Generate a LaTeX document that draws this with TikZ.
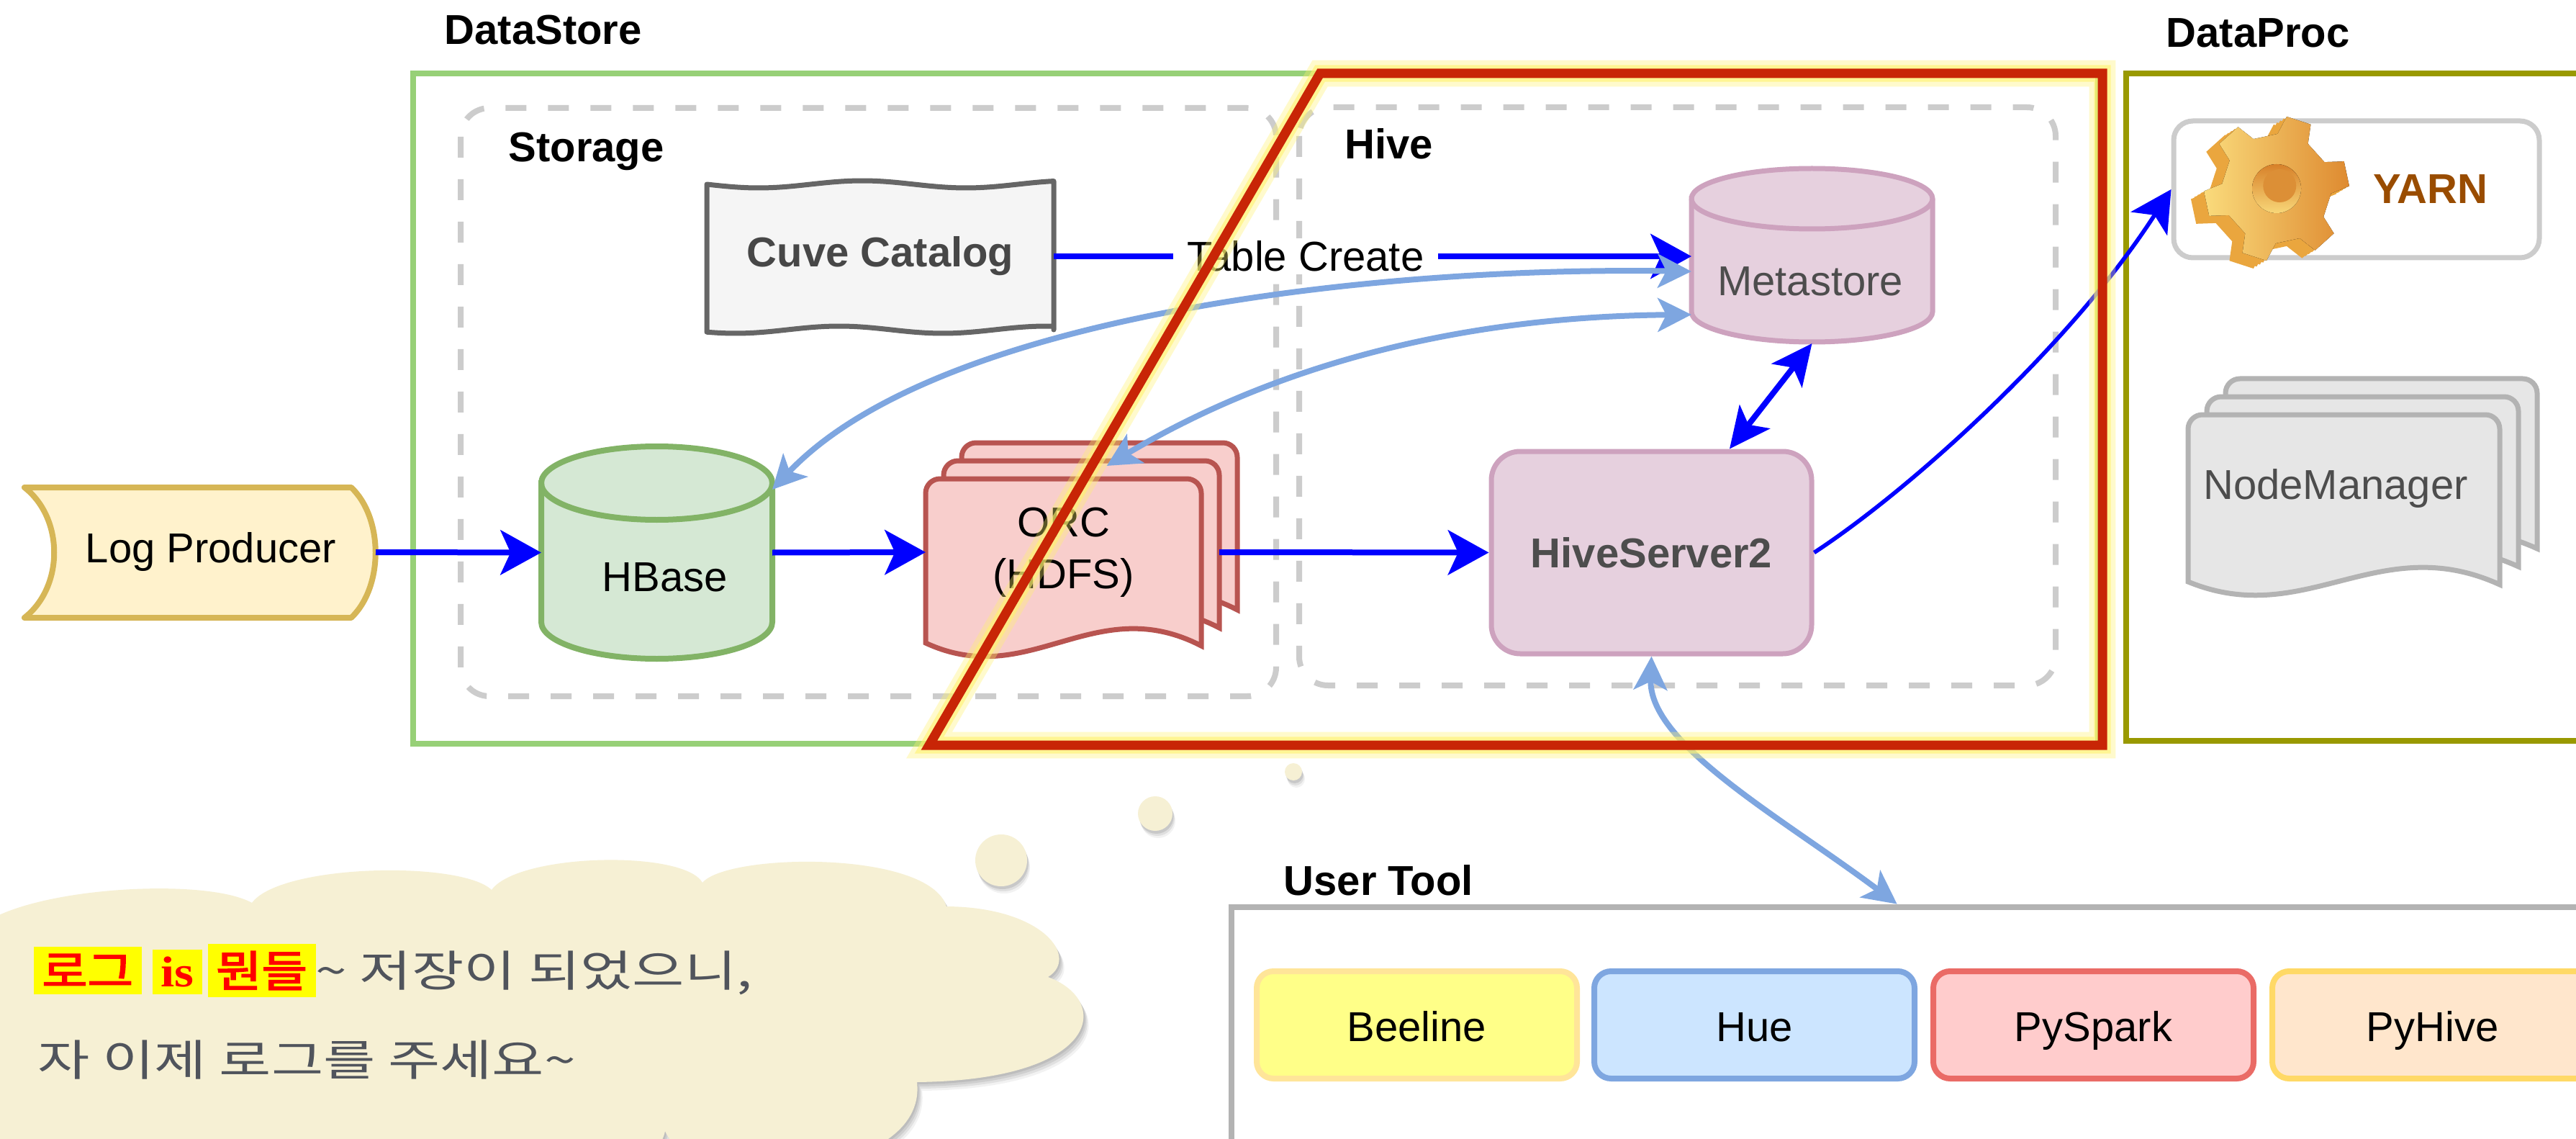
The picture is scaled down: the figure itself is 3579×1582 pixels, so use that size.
\documentclass[tikz,border=0pt]{standalone}
\usepackage{fontspec}
\usepackage{graphicx}
\setmainfont{Liberation Sans}
\newfontfamily\kofont{Noto Sans CJK KR}
\newfontfamily\kobold[FakeBold=2.5]{Noto Sans CJK KR}
\newfontfamily\seriffont{Liberation Serif}
\usetikzlibrary{arrows.meta,calc}

\definecolor{dsgreen}{HTML}{97D077}
\definecolor{procolive}{HTML}{999900}
\definecolor{hlred}{HTML}{C82506}
\definecolor{glowyellow}{HTML}{FFF36E}
\definecolor{dashgray}{HTML}{CCCCCC}
\definecolor{catfill}{HTML}{F5F5F5}
\definecolor{catline}{HTML}{666666}
\definecolor{flowblue}{HTML}{0000FF}
\definecolor{linkblue}{HTML}{7EA6E0}
\definecolor{hbfill}{HTML}{D5E8D4}
\definecolor{hbline}{HTML}{82B366}
\definecolor{orcfill}{HTML}{F8CECC}
\definecolor{orcline}{HTML}{B85450}
\definecolor{hvfill}{HTML}{E6D0DE}
\definecolor{hvline}{HTML}{CDA2BE}
\definecolor{lpfill}{HTML}{FFF2CC}
\definecolor{lpline}{HTML}{D6B656}
\definecolor{nmfill}{HTML}{E6E6E6}
\definecolor{nmline}{HTML}{B3B3B3}
\definecolor{yarnline}{HTML}{CCCCCC}
\definecolor{yarnbrown}{HTML}{994C00}
\definecolor{txtgray}{HTML}{4D4D4D}
\definecolor{cloudfill}{HTML}{F6F0D4}
\definecolor{cloudtxt}{HTML}{50545C}
\definecolor{hlyellow}{HTML}{FFFF00}
\definecolor{hltext}{HTML}{FF0000}
\definecolor{beefill}{HTML}{FFFF88}
\definecolor{beeline}{HTML}{FFE599}
\definecolor{huefill}{HTML}{CCE5FF}
\definecolor{hueline}{HTML}{7EA6E0}
\definecolor{spkfill}{HTML}{FFCCCC}
\definecolor{spkline}{HTML}{EA6B66}
\definecolor{phvfill}{HTML}{FFE6CC}
\definecolor{phvline}{HTML}{FFD966}
\definecolor{gearlight}{HTML}{FADB7C}
\definecolor{geardark}{HTML}{DE8A30}
\definecolor{gearside}{HTML}{EAA63E}
\definecolor{gearhole}{HTML}{D7812A}

% stacked document sheet: style, left, top, right, bottom-left y
\newcommand\docsheet[5]{%
  \filldraw[#1] (#2,#5) -- ({#2},{#3+20})
    arc[start angle=180,end angle=270,radius=20] -- ({#4-20},{#3})
    arc[start angle=270,end angle=360,radius=20] -- ({#4},{#5+4})
    .. controls ({#4-0.39*(#4-#2)},{#5-73}) and ({#4-0.624*(#4-#2)},{#5+67}) .. (#2,#5) -- cycle;}

% upright cylinder: style, centre x, top, bottom, x radius, y radius
\newcommand\dbcylinder[6]{%
  \filldraw[#1] ({#2-#5},{#3+#6}) -- ({#2-#5},{#4-#6})
    arc[start angle=180,end angle=0,x radius=#5,y radius=#6] -- ({#2+#5},{#3+#6})
    arc[start angle=0,end angle=-180,x radius=#5,y radius=#6] -- cycle;
  \draw[#1,fill=none] ({#2-#5},{#3+#6}) arc[start angle=180,end angle=0,x radius=#5,y radius=#6];}

\newcommand\cloudpath{(-40,1300) .. controls (0,1235) and (280,1215) .. (350,1254)
  .. controls (390,1200) and (640,1195) .. (683,1236)
  .. controls (720,1185) and (950,1180) .. (976,1226)
  .. controls (1010,1185) and (1290,1180) .. (1315,1259)
  .. controls (1450,1260) and (1500,1330) .. (1456,1357)
  .. controls (1545,1390) and (1530,1500) .. (1274,1503)
  .. controls (1290,1640) and (960,1660) .. (924,1571)
  .. controls (900,1700) and (300,1700) .. (-40,1700) -- cycle}

\newcommand\tld{\char"7E\relax}
\newcommand\hlw[1]{{\setlength\fboxsep{3pt}\colorbox{hlyellow}{#1}}}

\begin{document}
\begin{tikzpicture}[x=0.3pt,y=-0.3pt,
  hdr/.style={font=\fontsize{17.4}{20}\selectfont\bfseries, anchor=base west, inner sep=0pt},
  txt/.style={font=\fontsize{17.4}{21.6}\selectfont, align=center, inner sep=0pt},
  txtb/.style={txt, font=\fontsize{17.4}{21.6}\selectfont\bfseries},
  area/.style={inner sep=0pt, outer sep=0pt},
  flow/.style={draw=flowblue, line width=2.4pt, -{Stealth[length=17pt,width=18.6pt,inset=4.2pt]}},
  flowthin/.style={draw=flowblue, line width=1.7pt, -{Stealth[length=17pt,width=18pt,inset=4.2pt]}},
  flowboth/.style={draw=flowblue, line width=2.4pt,
    {Stealth[length=17pt,width=16pt,inset=4.2pt]}-{Stealth[length=17pt,width=16pt,inset=4.2pt]}},
  link/.style={draw=linkblue, line width=2.4pt,
    {Stealth[length=14pt,width=14pt,inset=3.5pt]}-{Stealth[length=14pt,width=14pt,inset=3.5pt]}},
  dashbox/.style={draw=dashgray, line width=2.4pt, dash pattern=on 8.7pt off 9pt, rounded corners=12pt},
  tool/.style={txt, text height=14pt, text depth=0pt, minimum width=133.5pt, minimum height=44.7pt,
    rounded corners=7pt, line width=2.4pt},
]
\useasboundingbox (0,0) rectangle (3579,1582);
\fill[white] (0,0) rectangle (3579,1582);
\clip (0,0) rectangle (3579,1582);

% ---------- group frames ----------
\draw[dsgreen, line width=2.4pt] (574,102) rectangle (2915,1033);
\draw[procolive, line width=2.4pt] (2954,102) rectangle (3700,1029);
\node[hdr] (dslbl) at (617,62) {DataStore};
\node[hdr] (dplbl) at (3009,66) {DataProc};
\draw[dashbox] (640,150) rectangle (1773,967);
\draw[dashbox] (1805,149) rectangle (2856,952);
\node[hdr] (stlbl) at (706,225) {Storage};
\node[hdr] (hvlbl) at (1868,221) {Hive};

% ---------- Cuve Catalog (sketchy box) ----------
\filldraw[fill=catfill, draw=catline, line width=2.1pt, line join=round]
  (982,460) -- (982,256)
  -- plot[domain=982:1464, samples=60] (\x,{256+5*sin(1.25*(\x-982))})
  -- (1464,458)
  -- plot[domain=1464:982, samples=60] (\x,{458+5*sin(1.25*(\x-982)+40)}) -- cycle;
\node[area, txtb, text=catline!70!black, minimum width=144.6pt, minimum height=63.6pt] (cuve) at (1223,356) {Cuve Catalog};

% ---------- Log Producer ----------
\filldraw[fill=lpfill, draw=lpline, line width=2.4pt, line join=round]
  (34,677) -- (488,677) .. controls (533,720) and (533,815) .. (488,858)
  -- (34,858) .. controls (89,815) and (89,720) .. (34,677) -- cycle;
\node[area, txt, minimum width=137.4pt, minimum height=54.3pt] (logp) at (293,767) {Log Producer};

% ---------- HBase ----------
\dbcylinder{fill=hbfill, draw=hbline, line width=2.4pt}{912.5}{620}{915}{160.5}{51}
\node[area, minimum width=96.3pt, minimum height=88.5pt] (hbase) at (912.5,767.5) {};
\node[txt] (hbasetxt) at (924,802) {HBase};

% ---------- ORC files ----------
\docsheet{fill=orcfill, draw=orcline, line width=2.1pt}{1336}{615}{1719}{843}
\docsheet{fill=orcfill, draw=orcline, line width=2.1pt}{1311}{640}{1694}{868}
\docsheet{fill=orcfill, draw=orcline, line width=2.1pt}{1286}{665}{1669}{893}
\node[area, txt, minimum width=114.9pt, minimum height=61.2pt] (orc) at (1477.5,767) {ORC\\(HDFS)};

% ---------- Metastore ----------
\dbcylinder{fill=hvfill, draw=hvline, line width=2.1pt}{2517.5}{234}{475}{167.5}{42}
\node[area, minimum width=100.5pt, minimum height=72.6pt] (meta) at (2517.5,356) {};
\node[txt, text=txtgray] (metatxt) at (2515,391) {Metastore};

% ---------- HiveServer2 ----------
\node[txtb, text=txtgray, fill=hvfill, draw=hvline, line width=2.1pt, rounded corners=12pt,
  minimum width=133.5pt, minimum height=84.3pt] (hs2) at (2294.5,767.5) {HiveServer2};

% ---------- YARN ----------
\node[draw=yarnline, line width=2.1pt, rounded corners=8pt, fill=white,
  minimum width=152.4pt, minimum height=57pt] (yarn) at (3274,263) {};
\begin{scope}[shift={(3163,262)}, rotate=12]
  \foreach \dx/\dy in {-20/7,-15/5.2,-10/3.5,-5/1.7}{
    \fill[gearside, shift={(\dx,\dy)}] (-17:76) \foreach \a in {0,60,...,300}{
      -- (\a-17:76) -- (\a-10:101) -- (\a+10:101) -- (\a+17:76)} -- cycle;
  }
  \fill[left color=gearlight, right color=geardark] (-17:76) \foreach \a in {0,60,...,300}{
      -- (\a-17:76) -- (\a-10:101) -- (\a+10:101) -- (\a+17:76)} -- cycle;
  \fill[top color=gearhole, bottom color=gearlight] (0,0) circle[radius=34];
  \fill[gearhole!85!gearlight] (5,-3) circle[radius=23];
\end{scope}
\node[txtb, text=yarnbrown] (yarntxt) at (3377,263) {YARN};

% ---------- NodeManager ----------
\docsheet{fill=nmfill, draw=nmline, line width=2.1pt}{3092}{526}{3525}{758}
\docsheet{fill=nmfill, draw=nmline, line width=2.1pt}{3066}{551}{3499}{783}
\docsheet{fill=nmfill, draw=nmline, line width=2.1pt}{3040}{576}{3473}{808}
\node[txt, text=txtgray] (nm) at (3245,679) {NodeManager};

% ---------- data flow ----------
\draw[flow] (logp.east) -- (hbase.west);
\draw[flow] (hbase.east) -- (orc.west);
\draw[flow] ([xshift=7.5pt]orc.east) -- (hs2.west);
\draw[flow] (cuve.east) -- node[pos=0.395, fill=white, txt, inner xsep=6pt, inner ysep=1pt] (tc) {Table Create} (meta.west);
\draw[flowboth] (meta.south) -- ($(hs2.north west)!0.74!(hs2.north east)$);
\draw[flowthin] (hs2.east) .. controls +(133,-87) and +(-140,217) .. (yarn.west);
\draw[link] ($(meta.west)+(0,21)$) .. controls +(-450,-7) and +(227,-240) .. ($(hbase.north east)+(0,60)$);
\draw[link] ($(meta.west)+(0,81)$) .. controls +(-350,3) and +(213,-127) .. ($(orc.north)+(60,-18)$);

% ---------- thought cloud ----------
\foreach \s/\o in {12/0.05, 9/0.07, 6/0.08, 3/0.08}{
  \fill[black, opacity=\o, shift={(0.6*\s,\s)}] \cloudpath;
}
\fill[cloudfill] \cloudpath;
\foreach \cx/\cy/\r in {1391/1195/36, 1605/1130/24, 1797/1072/12}{
  \foreach \s/\o in {10/0.05, 7/0.08, 4/0.1}{
    \fill[black, opacity=\o] ({\cx+0.4*\s},{\cy+\s}) circle[radius=\r];
  }
  \fill[cloudfill] (\cx,\cy) circle[radius=\r];
}
\node[anchor=west, inner sep=0pt, font=\fontsize{18}{22}\selectfont] (say1) at (46,1348)
  {\scalebox{1.15}[1]{\hlw{\color{hltext}\kobold 로그}\hspace{4pt}\hlw{\color{hltext}\seriffont\bfseries is}\hspace{2pt}\hlw{\color{hltext}\kobold 뭔들}}\scalebox{1.31}[1]{\color{cloudtxt}\kofont\tld{} 저장이 되었으니,}};
\node[anchor=west, inner sep=0pt, font=\fontsize{18}{22}\selectfont] (say2) at (52,1472)
  {\scalebox{1.31}[1]{\color{cloudtxt}\kofont 자 이제 로그를 주세요\tld}};

% ---------- user tools ----------
\node[draw=nmline, line width=2.6pt, minimum width=596.7pt, minimum height=132pt] (ut) at (2705.5,1480) {};
\node[hdr] (utlbl) at (1783,1243) {User Tool};
\node[tool, fill=beefill, draw=beeline] (beeline) at (1968.5,1423.5) {Beeline};
\node[tool, fill=huefill, draw=hueline] (hue) at (2437.5,1423.5) {Hue};
\node[tool, fill=spkfill, draw=spkline] (pyspark) at (2908.5,1423.5) {PySpark};
\node[tool, fill=phvfill, draw=phvline] (pyhive) at (3379.5,1423.5) {PyHive};
\draw[link] (hs2.south) .. controls +(-4,122) and +(-160,-120) .. ($(ut.north west)+(929,0)$);

% ---------- highlighted Hive frame ----------
\draw[glowyellow, opacity=0.35, line width=11pt, line join=miter]
  (1834,102) -- (2921,102) -- (2921,1035) -- (1291,1035) -- cycle;
\draw[glowyellow, opacity=0.6, line width=7pt, line join=miter]
  (1834,102) -- (2921,102) -- (2921,1035) -- (1291,1035) -- cycle;
\draw[hlred, line width=3.9pt, line join=miter]
  (1834,102) -- (2921,102) -- (2921,1035) -- (1291,1035) -- cycle;
\end{tikzpicture}
\end{document}
